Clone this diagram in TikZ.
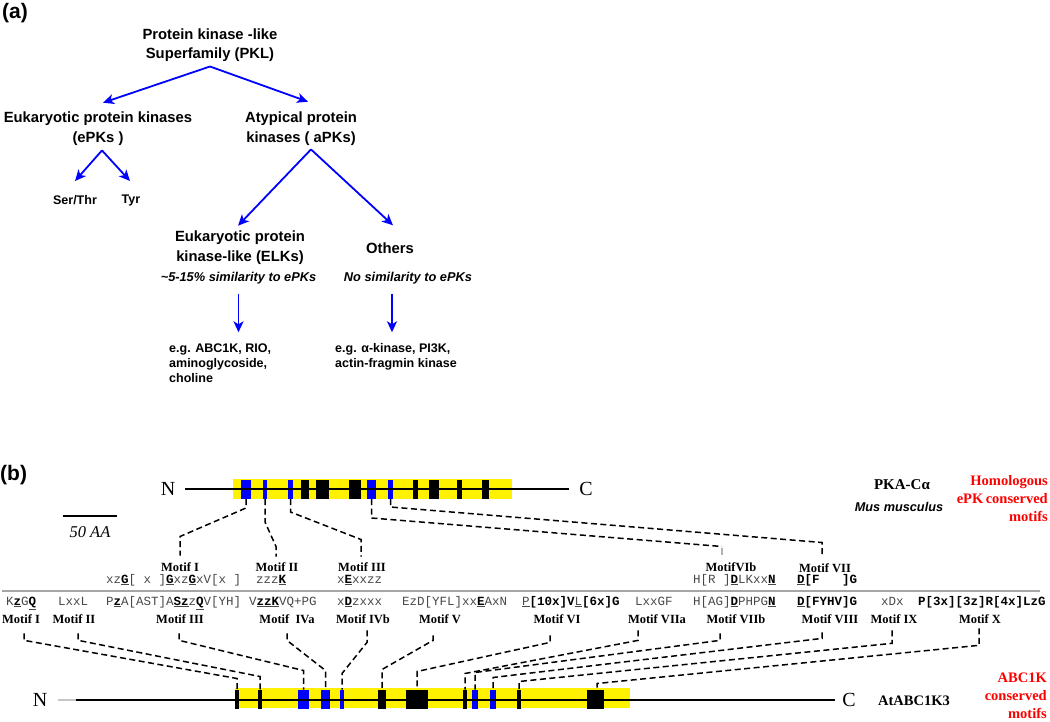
\documentclass[tikz,border=0pt]{standalone}
\usepackage{fontspec}
\setmainfont{Liberation Serif}
\setsansfont{Liberation Sans}
\setmonofont{Liberation Mono}
\usetikzlibrary{arrows.meta,calc}
\newcommand\myul[1]{\underline{\textcolor{black}{\textbf{#1}}}}
\newcommand\mbf[1]{\textcolor{black}{\textbf{#1}}}
\begin{document}
\begin{tikzpicture}[x=1pt,y=-1pt,
  panel/.style={font=\sffamily\bfseries\fontsize{21}{24}\selectfont, inner sep=0pt, anchor=base west},
  hd/.style={font=\sffamily\bfseries\fontsize{14.8}{19.5}\selectfont, align=center, inner sep=0pt, anchor=north},
  sm/.style={font=\sffamily\bfseries\fontsize{12.5}{15}\selectfont, inner sep=0pt, anchor=north},
  sim/.style={font=\sffamily\bfseries\itshape\fontsize{12.8}{15}\selectfont, inner sep=0pt, anchor=north},
  eg/.style={font=\sffamily\bfseries\fontsize{12.5}{15}\selectfont, align=left, inner sep=0pt, anchor=north west},
  arr/.style={draw=blue, line width=1.8pt, -{Stealth[length=11pt,width=10pt,inset=3pt]}},
  nc/.style={font=\rmfamily\fontsize{20}{22}\selectfont, inner sep=10pt},
  mot/.style={font=\rmfamily\bfseries\fontsize{12.5}{14}\selectfont, inner sep=0pt, anchor=base},
  mono/.style={font=\ttfamily\fontsize{12.5}{14}\selectfont, text=black!72, inner sep=0pt, anchor=base west},
  blk/.style={inner sep=0pt, outer sep=0pt, minimum height=19pt},
  dsh/.style={line width=1.5pt, dash pattern=on 6pt off 3.5pt},
  redlab/.style={font=\rmfamily\bfseries\fontsize{14.5}{18}\selectfont, text=red, align=right, inner sep=0pt, anchor=north east},
  protname/.style={font=\rmfamily\bfseries\fontsize{14.5}{17}\selectfont, inner sep=0pt, anchor=base}
]
\useasboundingbox (0,0) rectangle (1050,721);

% ---------------- (a) ----------------
\node[panel] (la) at (2,18.6) {(a)};
\node[hd] (pkl) at (210,28.3) {Protein kinase -like\\Superfamily (PKL)};
\node[hd] (epk) at (98,111.7) {Eukaryotic protein kinases\\(ePKs )};
\node[hd] (apk) at (301,111.7) {Atypical protein\\kinases ( aPKs)};
\node[sm] (ser) at (75,195) {Ser/Thr};
\node[sm] (tyr) at (131,195) {Tyr};
\node[hd] (elk) at (240,230.7) {Eukaryotic protein\\kinase-like (ELKs)};
\node[hd] (oth) at (390,242.3) {Others};
\node[sim] (sim1) at (238.5,271.7) {\textasciitilde5-15\% similarity to ePKs};
\node[sim] (sim2) at (408,272) {No similarity to ePKs};
\node[eg] (eg1) at (169,343.3) {e.g. ABC1K, RIO,\\aminoglycoside,\\choline};
\node[eg] (eg2) at (335,343.3) {e.g. α-kinase, PI3K,\\actin-fragmin kinase};

\draw[arr] ($(pkl.south)+(0,4.5)$) -- ($(epk.north)+(5,-9)$);
\draw[arr] ($(pkl.south)+(0,4.5)$) -- ($(apk.north)+(7,-10)$);
\draw[arr] ($(epk.south)+(4,5)$) -- ($(ser.north)+(0,-14)$);
\draw[arr] ($(epk.south)+(4,5)$) -- ($(tyr.north)+(-1,-14)$);
\draw[arr] ($(apk.south)+(10,4)$) -- ($(elk.north)+(-2,-5)$);
\draw[arr] ($(apk.south)+(10,4)$) -- ($(oth.north)+(3,-17)$);
\draw[arr] ($(sim1.south)+(0,9.5)$) -- ($(sim1.south |- eg1.north)+(0,-11)$);
\draw[arr] ($(oth.south |- sim2.south)+(2,9.5)$) -- ($(oth.south |- eg2.north)+(2,-11)$);

% ---------------- (b) ----------------
\node[panel] (lb) at (0,480) {(b)};

% scale bar
\draw[line width=1.5pt] (63,516) -- (117,516);
\node[font=\rmfamily\itshape\fontsize{16.5}{18}\selectfont, inner sep=0pt, anchor=base] (scl) at (90,537) {50 AA};

% top protein
\fill[yellow] (233,479) rectangle (512,499);
\node[blk, fill=blue,  minimum width=10pt] (t1)  at (246,489.5) {};
\node[blk, fill=blue,  minimum width=4pt]  (t2)  at (265,489.5) {};
\node[blk, fill=blue,  minimum width=5pt]  (t3)  at (290.5,489.5) {};
\node[blk, fill=black, minimum width=8pt]  (t4)  at (305,489.5) {};
\node[blk, fill=black, minimum width=13pt] (t5)  at (322.5,489.5) {};
\node[blk, fill=black, minimum width=12pt] (t6)  at (355,489.5) {};
\node[blk, fill=blue,  minimum width=9pt]  (t7)  at (371.5,489.5) {};
\node[blk, fill=blue,  minimum width=5pt]  (t8)  at (390.5,489.5) {};
\node[blk, fill=black, minimum width=5pt]  (t9)  at (415.5,489.5) {};
\node[blk, fill=black, minimum width=10pt] (t10) at (434,489.5) {};
\node[blk, fill=black, minimum width=5pt]  (t11) at (459.5,489.5) {};
\node[blk, fill=black, minimum width=7pt]  (t12) at (485.5,489.5) {};
\node[nc] (nT) at (168,489) {N};
\node[nc] (cT) at (586,489) {C};
\draw[line width=2pt] (nT) -- (cT);

\node[font=\rmfamily\bfseries\fontsize{15}{17}\selectfont, inner sep=0pt, anchor=base] (pka) at (902,489) {PKA-Cα};
\node[font=\sffamily\bfseries\itshape\fontsize{12.7}{15}\selectfont, inner sep=0pt, anchor=base] (mus) at (899,511) {Mus musculus};
\node[redlab] (hom) at (1048,475) {Homologous\\ePK\,conserved\\motifs};

% top motif labels
\node[mot] (mt1) at (180,571) {Motif I};
\node[mot] (mt2) at (277,571) {Motif II};
\node[mot] (mt3) at (362,571.5) {Motif III};
\node[mot] (mt4) at (731,571) {MotifVIb};
\node[mot] (mt5) at (825,572) {Motif VII};

\draw[dsh] (t1.south) -- ++(0,9) -- ($(mt1.north)+(0,-25.5)$) -- ($(mt1.north)+(0,-6.5)$);
\draw[dsh] (t2.south) -- ++(0,23) -- ($(mt2.north)+(-1,-15.5)$) -- ($(mt2.north)+(-1,-5.5)$);
\draw[dsh] (t3.south) -- ++(0,13) -- ($(mt3.north)+(-1,-23)$) -- ($(mt3.north)+(-1,-6)$);
\draw[dsh] (t7.south) -- ++(0,19) -- ($(mt4.north)+(-9,-15.5)$);
\draw[gray!60, line width=1.2pt] ($(mt4.north)+(-9,-14)$) -- ($(mt4.north)+(-9,-7)$);
\draw[dsh] (t8.south) -- ++(0,8) -- ($(mt5.north)+(-3,-20.5)$) -- ($(mt5.north)+(-3,-8.5)$);

% top sequences
\node[mono] (s1) at (106,583) {xz\myul{G}[~x~]\myul{G}xz\myul{G}xV[x~]};
\node[mono] (s2) at (256,583) {zzz\myul{K}};
\node[mono] (s3) at (337,583) {x\myul{E}xxzz};
\node[mono] (s4) at (693,583) {H[R~]\myul{D}LKxx\myul{N}};
\node[mono] (s5) at (797,583) {\myul{D}\mbf{[F~~~]G}};

% separator
\draw[gray!70, line width=1.2pt] (2,591) -- (1040,591);

% bottom sequences
\node[mono] (q1)  at (6,605)   {K\myul{z}G\myul{Q}};
\node[mono] (q2)  at (58,605)  {LxxL};
\node[mono] (q3)  at (106,605) {P\myul{z}A[AST]A\myul{S}\myul{z}z\myul{Q}V[YH]};
\node[mono] (q4)  at (249,605) {V\myul{zzK}VQ+PG};
\node[mono] (q5)  at (337,605) {x\myul{D}zxxx};
\node[mono] (q6)  at (402,605) {EzD[YFL]xx\myul{E}AxN};
\node[mono] (q7)  at (522,605) {\underline{P}\mbf{[10x]V}\underline{L}\mbf{[6x]G}};
\node[mono] (q8)  at (635,605) {LxxGF};
\node[mono] (q9)  at (693,605) {H[AG]\myul{D}PHPG\myul{N}};
\node[mono] (q10) at (797,605) {\myul{D}\mbf{[FYHV]G}};
\node[mono] (q11) at (881,605) {xDx};
\node[mono] (q12) at (918,605) {\mbf{P[3x][3z]R[4x]LzG}};

% bottom motif labels
\node[mot] (mb1)  at (21,623)  {Motif I};
\node[mot] (mb2)  at (74,623)  {Motif II};
\node[mot] (mb3)  at (180,623) {Motif III};
\node[mot] (mb4)  at (287,623) {Motif\ \ IVa};
\node[mot] (mb5)  at (363,623) {Motif IVb};
\node[mot] (mb6)  at (440,623) {Motif V};
\node[mot] (mb7)  at (557,623) {Motif VI};
\node[mot] (mb8)  at (657,623) {Motif VIIa};
\node[mot] (mb9)  at (736,623) {Motif VIIb};
\node[mot] (mb10) at (830,623) {Motif VIII};
\node[mot] (mb11) at (894,623) {Motif IX};
\node[mot] (mb12) at (980,623) {Motif X};

% bottom protein
\fill[yellow] (235,688) rectangle (630,708);
\node[blk, fill=black, minimum width=4pt]  (b1)  at (237,699) {};
\node[blk, fill=black, minimum width=4pt]  (b2)  at (260,699) {};
\node[blk, fill=blue,  minimum width=11pt] (b3)  at (303.5,699) {};
\node[blk, fill=blue,  minimum width=9pt]  (b4)  at (325.5,699) {};
\node[blk, fill=blue,  minimum width=4pt]  (b5)  at (342,699) {};
\node[blk, fill=black, minimum width=8pt]  (b6)  at (382,699) {};
\node[blk, fill=black, minimum width=22pt] (b7)  at (417,699) {};
\node[blk, fill=black, minimum width=4pt]  (b8)  at (465,699) {};
\node[blk, fill=blue,  minimum width=6pt]  (b9)  at (475,699) {};
\node[blk, fill=blue,  minimum width=6pt]  (b10) at (493,699) {};
\node[blk, fill=black, minimum width=4pt]  (b11) at (519,699) {};
\node[blk, fill=black, minimum width=17pt] (b12) at (595.5,699) {};
\node[nc, inner sep=10.8pt] (nB) at (40,700) {N};
\coordinate (gB) at (76,700);
\node[nc, inner sep=7.3pt] (cB) at (849,700) {C};
\draw[gray!45, line width=2.2pt] (nB) -- (gB);
\draw[line width=2.2pt] (gB) -- (cB);

\node[protname] (atk) at (914,705) {AtABC1K3};
\node[redlab] (abc) at (1047,673) {ABC1K\\conserved\\motifs};

% bottom connectors
\draw[dsh] ($(mb1.south)+(3,10)$)   -- ++(0,7)  -- ($(b1.north)+(0,-11)$)  -- (b1.north);
\draw[dsh] ($(mb2.south)+(4,10)$)   -- ++(0,7)  -- ($(b2.north)+(0,-13)$)  -- (b2.north);
\draw[dsh] ($(mb3.south)+(-1,10)$)  -- ++(0,7)  -- ($(b3.north)+(0,-19)$)  -- (b3.north);
\draw[dsh] ($(mb4.south)+(0,10)$)   -- ++(0,7)  -- ($(b4.north)+(0,-19)$)  -- (b4.north);
\draw[dsh] ($(mb5.south)+(4,7)$)    -- ++(0,12) -- ($(b5.north)+(0,-16)$)  -- (b5.north);
\draw[dsh] ($(mb6.south)+(-7,12)$)  -- ++(0,5)  -- ($(b6.north)+(0,-20)$)  -- (b6.north);
\draw[dsh] ($(mb7.south)+(-7,12)$)  -- ++(0,7)  -- ($(b7.north)+(0,-18)$)  -- (b7.north);
\draw[dsh] ($(mb8.south)+(-19,7)$)  -- ++(0,10) -- ($(b8.north)+(0,-16)$)  -- (b8.north);
\draw[dsh] ($(mb9.south)+(-16,10)$) -- ++(0,7)  -- ($(b9.north)+(0,-17)$)  -- (b9.north);
\draw[dsh] ($(mb10.south)+(-8,9)$)  -- ++(0,6)  -- ($(b10.north)+(0,-12)$) -- (b10.north);
\draw[dsh] ($(mb11.south)+(-2,7)$)  -- ++(0,13) -- ($(b11.north)+(0,-8)$)  -- (b11.north);
\draw[dsh] ($(mb12.south)+(-1,5)$)  -- ++(0,17) -- ($(b12.north)+(1.5,-6)$) -- ($(b12.north)+(1.5,0)$);
\end{tikzpicture}
\end{document}
